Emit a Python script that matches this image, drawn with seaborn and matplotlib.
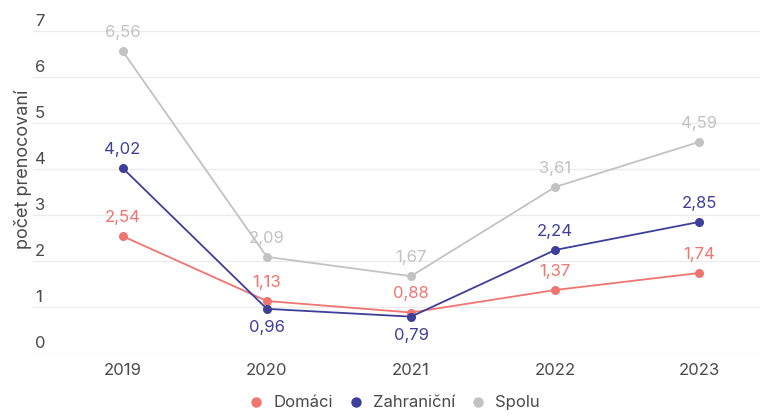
import matplotlib
matplotlib.use("Agg")
import matplotlib.pyplot as plt
import seaborn as sns
import pandas as pd

years = [2019, 2020, 2021, 2022, 2023]
domaci = [2.54, 1.13, 0.88, 1.37, 1.74]
zahranicni = [4.02, 0.96, 0.79, 2.24, 2.85]
spolu = [6.56, 2.09, 1.67, 3.61, 4.59]
series_names = ["Domáci", "Zahraniční", "Spolu"]
colors = ["#F07570", "#3D3F98", "#C2C2C2"]
y_ticks = [0, 1, 2, 3, 4, 5, 6, 7]
y_label = "počet prenocovaní"
# label placement: +1 above, -1 below
label_pos = {
    "Domáci": [1, 1, 1, 1, 1],
    "Zahraniční": [1, -1, -1, 1, 1],
    "Spolu": [1, 1, 1, 1, 1],
}

sns.set_theme(style="white")
plt.rcParams["font.family"] = ["Inter", "DejaVu Sans"]

rows = []
for name, vals in zip(series_names, [domaci, zahranicni, spolu]):
    for y, v in zip(years, vals):
        rows.append({"rok": y, "hodnota": v, "séria": name})
df = pd.DataFrame(rows)

fig = plt.figure(figsize=(7.61, 4.17), dpi=100)
ax = fig.add_axes([33 / 761, 1 - 353 / 417, 727 / 761, 322 / 417])

sns.lineplot(data=df, x="rok", y="hodnota", hue="séria", hue_order=series_names,
             palette=colors, marker="o", markersize=6.5, markeredgewidth=0,
             linewidth=1.3, ax=ax, legend=False, zorder=3)

ax.set_xlim(years[0] - 0.622, years[-1] + 0.42)
ax.set_ylim(0, 7)
ax.set_xticks(years)
ax.set_xticklabels([str(y) for y in years], fontsize=12, color="#4a4a4a")
ax.tick_params(axis="x", length=0, pad=7)
ax.set_yticks(y_ticks)
ax.set_yticklabels([])
ax.tick_params(axis="y", length=0)
ax.grid(axis="y", color="#ebebeb", linewidth=0.9)
ax.set_axisbelow(True)
for s in ax.spines.values():
    s.set_visible(False)
ax.set_xlabel("")
ax.set_ylabel("")

for t in y_ticks:
    ax.annotate(str(t), xy=(0.003, t), xycoords=("axes fraction", "data"),
                xytext=(0, 7), textcoords="offset points", ha="left", va="center",
                fontsize=12, color="#4a4a4a", annotation_clip=False)

fig.text(23 / 761, 1 - 169 / 417, y_label, rotation=90, ha="center", va="center",
         fontsize=13, color="#4a4a4a")

for name, vals, c in zip(series_names, [domaci, zahranicni, spolu], colors):
    for y, v, p in zip(years, vals, label_pos[name]):
        ax.annotate(f"{v:.2f}".replace(".", ","), xy=(y, v), xytext=(0, 13.5 * p),
                    textcoords="offset points", ha="center", va="center",
                    fontsize=12, color=c, annotation_clip=False, zorder=4)

handles = [plt.Line2D([], [], marker="o", linestyle="", markersize=7.5,
                      markerfacecolor=c, markeredgewidth=0) for c in colors]
fig.legend(handles, series_names, loc="lower center", bbox_to_anchor=(0.512, -0.02),
           ncol=3, frameon=False, fontsize=12, handletextpad=0.05, columnspacing=0.35,
           labelcolor="#4a4a4a")

fig.savefig("out.png", dpi=100)
